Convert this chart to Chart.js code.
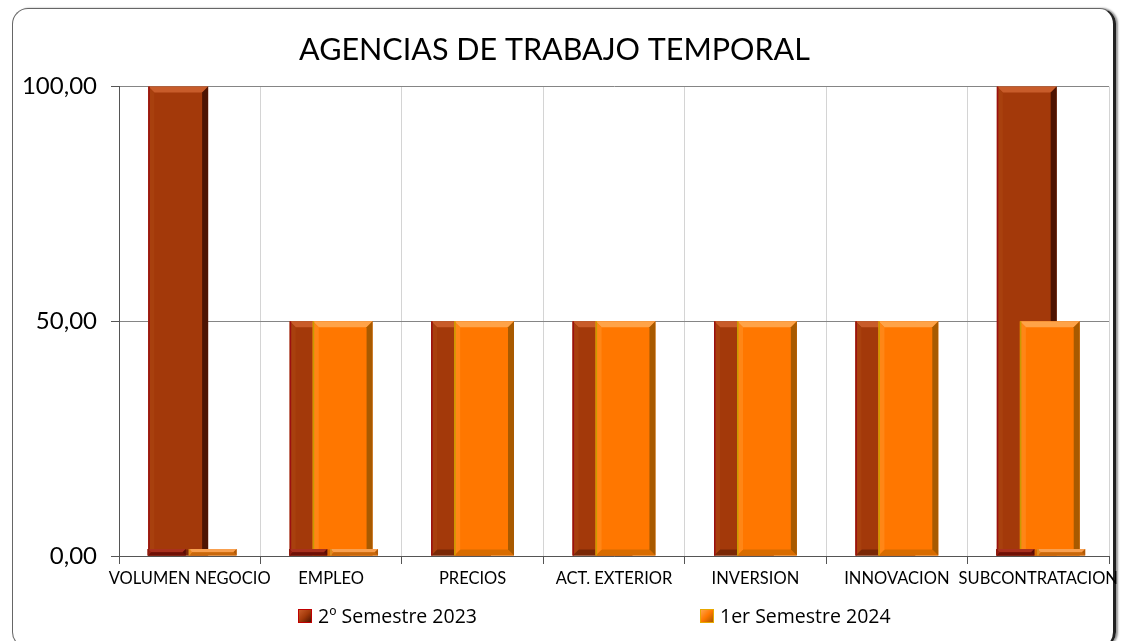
<!DOCTYPE html>
<html>
<head>
<meta charset="utf-8">
<script src="https://cdn.jsdelivr.net/npm/chart.js@4"></script>
<style>
  html, body { margin: 0; padding: 0; background: #fff; }
  #wrap { position: relative; width: 1126px; height: 641px; overflow: hidden; }
  #frame { position: absolute; left: 12px; top: 8px; width: 1104px; height: 640px; border: 1px solid #666;
           border-right: 3px solid #222; border-radius: 16px; box-sizing: border-box; box-shadow: 2px 0 2px #999; }
  canvas { position: absolute; left: 0; top: 0; }
  #legend { position: absolute; left: 298px; top: 602px; display: flex; font-family: "Open Sans", sans-serif; font-size: 19.5px; color: #000; }
  .item { display: flex; align-items: center; }
  .item:first-child { width: 402px; }
  .sw { width: 14px; height: 14px; margin-right: 6px; box-sizing: border-box; }
</style>
</head>
<body>
<div id="wrap">
  <div id="frame"></div>
  <canvas id="chart" width="1126" height="641"></canvas>
  <div id="legend"></div>
</div>
<script>
var categories = ['VOLUMEN NEGOCIO', 'EMPLEO', 'PRECIOS', 'ACT. EXTERIOR', 'INVERSION', 'INNOVACION', 'SUBCONTRATACION'];
var seriesNames = ['2º Semestre 2023', '1er Semestre 2024'];
var sem2023 = [100, 50, 50, 50, 50, 50, 100];
var sem2024 = [0, 50, 50, 50, 50, 50, 50];
// flat zero-height slabs visible at the foot of some groups
var slab2023 = [0, 0, null, null, null, null, 0];
var slab2024 = [0, 0, null, null, null, null, 0];
var yTicks = [0, 50, 100];

var FONT = 'Lato, "Open Sans", sans-serif';

var shades = {
  dark:   { body: '#A3390A', top: '#C85C2A', right: '#4E1402', bottom: '#7A2806', left: '#A8400E', line: '#9A1010' },
  orange: { body: '#FF7700', top: '#FFA348', right: '#A85A00', bottom: '#D86C00', left: '#FF8616', line: '#C89A00' },
  slabD:  { body: '#8E1A0E', top: '#A8301E', right: '#5A0C04', bottom: '#6E1006', left: '#961E10', line: '#8E1A0E' },
  slabO:  { body: '#EC7A1A', top: '#F8A050', right: '#B05A08', bottom: '#C8680C', left: '#F08420', line: '#D89020' }
};

function poly(ctx, pts, color) {
  ctx.beginPath();
  ctx.moveTo(pts[0][0], pts[0][1]);
  for (var i = 1; i < pts.length; i++) ctx.lineTo(pts[i][0], pts[i][1]);
  ctx.closePath();
  ctx.fillStyle = color;
  ctx.fill();
}

function bevel(ctx, l, t, r, b, c) {
  var e = Math.min(6, (b - t) / 2, (r - l) / 2);
  poly(ctx, [[l, t], [r, t], [r - e, t + e], [l + e, t + e]], c.top);
  poly(ctx, [[l, b], [r, b], [r - e, b - e], [l + e, b - e]], c.bottom);
  poly(ctx, [[l, t], [l + e, t + e], [l + e, b - e], [l, b]], c.left);
  poly(ctx, [[r, t], [r, b], [r - e, b - e], [r - e, t + e]], c.right);
  ctx.fillStyle = c.line;
  ctx.fillRect(l, t, 1.5, b - t);
}

// draw datasets by their "z" (low first) and add the bevel
var bevelPlugin = {
  id: 'bevel',
  beforeDatasetsDraw: function(chart) {
    var ctx = chart.ctx;
    var metas = chart.getSortedVisibleDatasetMetas().slice().sort(function(a, b) {
      return chart.data.datasets[a.index].z - chart.data.datasets[b.index].z;
    });
    metas.forEach(function(meta) {
      var c = shades[chart.data.datasets[meta.index].shade];
      meta.data.forEach(function(el) {
        var p = el.getProps(['x', 'y', 'base', 'width'], true);
        if (isNaN(p.y) || Math.abs(p.base - p.y) < 1) return;
        var l = p.x - p.width / 2, r = p.x + p.width / 2;
        var t = Math.min(p.y, p.base), b = Math.max(p.y, p.base);
        ctx.fillStyle = c.body;
        ctx.fillRect(l, t, r - l, b - t);
        bevel(ctx, l, t, r, b, c);
      });
    });
    return false;
  }
};

function fmt(v) { return v.toFixed(2).replace('.', ','); }

// group slots: 2023 bar, 2023 slab, 2024 slab, 2024 bar
new Chart(document.getElementById('chart'), {
  type: 'bar',
  data: {
    labels: categories,
    datasets: [
      { label: seriesNames[0], data: sem2023, shade: 'dark', z: 0, backgroundColor: shades.dark.body,
        categoryPercentage: 0.217, barPercentage: 7.8 },
      { label: '', data: slab2023, shade: 'slabD', z: 2, backgroundColor: shades.slabD.body,
        categoryPercentage: 1.3, barPercentage: 0.83, minBarLength: 7 },
      { label: '', data: slab2024, shade: 'slabO', z: 3, backgroundColor: shades.slabO.body,
        categoryPercentage: 1.3, barPercentage: 1.04, minBarLength: 7 },
      { label: seriesNames[1], data: sem2024, shade: 'orange', z: 1, backgroundColor: shades.orange.body,
        categoryPercentage: 0.217, barPercentage: 7.8 }
    ]
  },
  options: {
    responsive: false,
    animation: false,
    layout: { padding: { left: 0, right: 17, top: 0, bottom: 0 } },
    plugins: {
      legend: { display: false },
      tooltip: { enabled: false },
      title: {
        display: true,
        text: 'AGENCIAS DE TRABAJO TEMPORAL',
        color: '#000',
        font: { family: FONT, size: 30.5, weight: 'normal' },
        padding: { top: 32, bottom: 18 }
      }
    },
    scales: {
      x: {
        offset: true,
        grid: { offset: true, color: '#d4d4d4', tickColor: '#555', tickLength: 8 },
        border: { color: '#555' },
        ticks: { color: '#000', font: { family: FONT, size: 16.5 }, padding: 5, maxRotation: 0, autoSkip: false },
        afterFit: function(s) { s.height = 85; }
      },
      y: {
        min: 0,
        max: 100,
        afterBuildTicks: function(s) { s.ticks = yTicks.map(function(v) { return { value: v }; }); },
        grid: { color: '#858585', tickColor: '#555', tickLength: 8 },
        border: { color: '#555' },
        ticks: { color: '#000', font: { family: FONT, size: 24 }, padding: 14, callback: fmt },
        afterFit: function(s) { s.width = 119; }
      }
    }
  },
  plugins: [bevelPlugin]
});

var legend = document.getElementById('legend');
[['dark', '#C00000'], ['orange', '#E8A800']].forEach(function(s, i) {
  var item = document.createElement('div');
  item.className = 'item';
  var sw = document.createElement('span');
  sw.className = 'sw';
  sw.style.background = 'linear-gradient(135deg, ' + shades[s[0]].top + ', ' + shades[s[0]].body + ' 50%, ' + shades[s[0]].right + ')';
  sw.style.border = '1px solid ' + s[1];
  var tx = document.createElement('span');
  tx.textContent = seriesNames[i];
  item.appendChild(sw);
  item.appendChild(tx);
  legend.appendChild(item);
});
</script>
</body>
</html>
